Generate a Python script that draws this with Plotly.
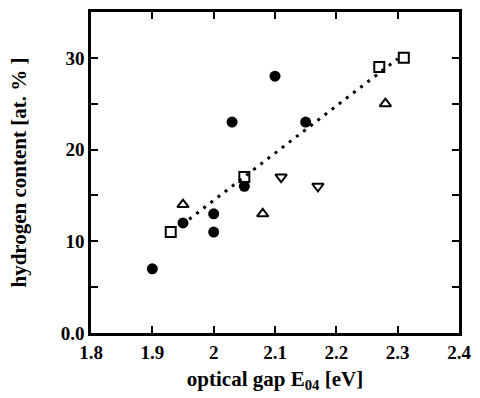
import plotly.graph_objects as go

# filled circles
circ_x = [1.90, 1.95, 2.00, 2.00, 2.03, 2.05, 2.10, 2.15]
circ_y = [7.0, 12.0, 13.0, 11.0, 23.0, 16.0, 28.0, 23.0]
# open squares
sq_x = [1.93, 2.05, 2.27, 2.31]
sq_y = [11.0, 17.0, 29.0, 30.0]
# open up-triangles
tu_x = [1.95, 2.08, 2.28]
tu_y = [14.0, 13.0, 25.0]
# open down-triangles
td_x = [2.11, 2.17]
td_y = [17.0, 16.0]
# dotted fit line
fit_x = [1.96, 2.30]
fit_y = [12.4, 29.9]

x_ticks = [1.8, 1.9, 2.0, 2.1, 2.2, 2.3, 2.4]
x_ticktext = ["1.8", "1.9", "2", "2.1", "2.2", "2.3", "2.4"]
y_ticks = [0, 10, 20, 30]
y_ticktext = ["0.0", "10", "20", "30"]

fig = go.Figure()
fig.add_trace(go.Scatter(x=fit_x, y=fit_y, mode="lines",
                         line=dict(color="black", width=3, dash="3px,6px")))
fig.add_trace(go.Scatter(x=circ_x, y=circ_y, mode="markers",
                         marker=dict(symbol="circle", size=11, color="black")))
fig.add_trace(go.Scatter(x=sq_x, y=sq_y, mode="markers",
                         marker=dict(symbol="square-open", size=10, color="black",
                                     line=dict(width=2, color="black"))))
fig.add_trace(go.Scatter(x=tu_x, y=tu_y, mode="markers",
                         marker=dict(symbol="triangle-up-open", size=10, color="black",
                                     line=dict(width=2, color="black"))))
fig.add_trace(go.Scatter(x=td_x, y=td_y, mode="markers",
                         marker=dict(symbol="triangle-down-open", size=10, color="black",
                                     line=dict(width=2, color="black"))))

serif = "Liberation Serif"
tickfont = dict(family=serif, size=19, color="black")
titlefont = dict(family=serif, size=21, color="black")

fig.update_layout(
    width=480, height=398,
    margin=dict(l=91, r=15, t=9, b=65),
    paper_bgcolor="white", plot_bgcolor="white",
    showlegend=False,
    font=dict(family=serif, size=19, color="black"),
    xaxis=dict(range=[1.8, 2.4], tickvals=x_ticks,
               ticktext=["<b>" + t + "</b>" for t in x_ticktext],
               showgrid=False, zeroline=False, showline=True, linewidth=2.5,
               linecolor="black", mirror="ticks", ticks="inside", ticklen=7,
               tickwidth=1.5, tickcolor="black", tickfont=tickfont,
               title=dict(text="<b>optical gap E<sub>04</sub> [eV]</b>", standoff=10,
                          font=titlefont)),
    yaxis=dict(range=[0, 35], tickvals=y_ticks,
               ticktext=["<b>" + t + "</b>" for t in y_ticktext],
               showgrid=False, zeroline=False, showline=True, linewidth=2.5,
               linecolor="black", mirror="ticks", ticks="inside", ticklen=7,
               tickwidth=1.5, tickcolor="black",
               minor=dict(tickvals=[5, 15, 25], ticks="inside", ticklen=7,
                          tickwidth=1.5, tickcolor="black", showgrid=False),
               tickfont=tickfont,
               title=dict(text="<b>hydrogen content [at. % ]</b>", standoff=29,
                          font=titlefont)),
)

fig.write_html("out.html")
